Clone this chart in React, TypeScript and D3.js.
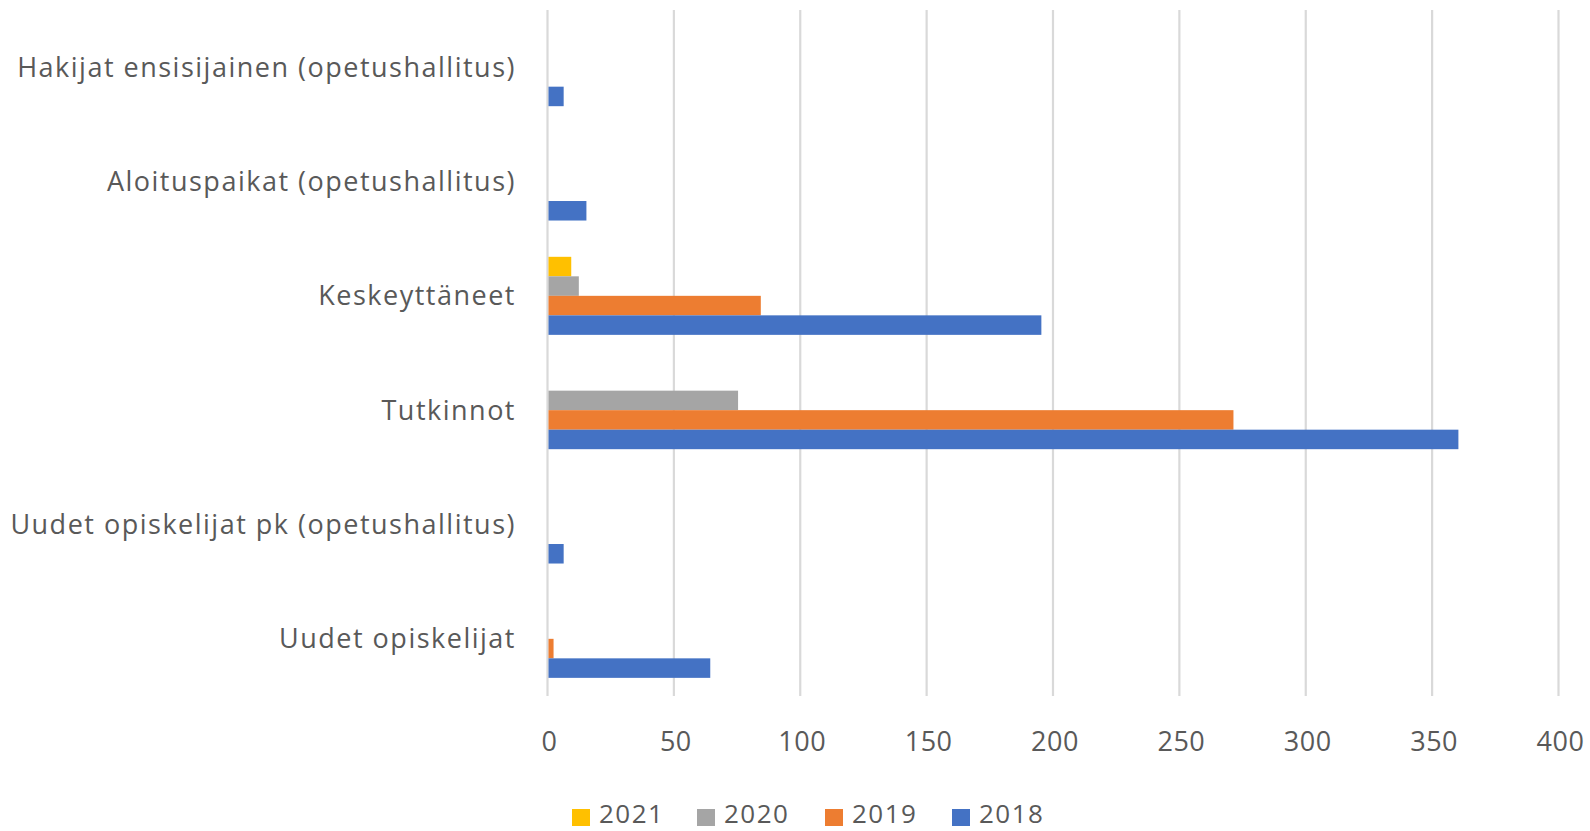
import React from "react";
import * as d3 from "d3";

const categories = [
  "Hakijat ensisijainen (opetushallitus)",
  "Aloituspaikat (opetushallitus)",
  "Keskeyttäneet",
  "Tutkinnot",
  "Uudet opiskelijat pk (opetushallitus)",
  "Uudet opiskelijat",
];
const seriesNames = ["2021", "2020", "2019", "2018"];
const values2021 = [0, 0, 9, 0, 0, 0];
const values2020 = [0, 0, 12, 75, 0, 0];
const values2019 = [0, 0, 84, 271, 0, 2];
const values2018 = [6, 15, 195, 360, 6, 64];
const xTicks = [0, 50, 100, 150, 200, 250, 300, 350, 400];
const colors = ["#FFC000", "#A5A5A5", "#ED7D31", "#4472C4"];

const seriesValues = [values2021, values2020, values2019, values2018];

const W = 1590;
const H = 831;
const FONT = "'Open Sans', sans-serif";
const TEXT = "#595959";

export default function App() {
  const x = d3.scaleLinear().domain([0, 400]).range([547.5, 1558.5]);
  const y = d3.scaleBand<string>().domain(categories).range([10, 696]).padding(0);
  const yInner = d3
    .scaleBand<string>()
    .domain(seriesNames)
    .range([0, y.bandwidth()])
    .paddingInner(0)
    .paddingOuter(0.93);

  const legendX = [572, 697, 825, 952];

  return (
    <svg
      width={W}
      height={H}
      style={{ position: "absolute", left: 0, top: 0, background: "#fff" }}
      fontFamily={FONT}
    >
      {xTicks.map((t) => (
        <line
          key={"g" + t}
          x1={x(t)}
          x2={x(t)}
          y1={10}
          y2={696}
          stroke="#D9D9D9"
          strokeWidth={2.2}
        />
      ))}
      {categories.map((c, ci) =>
        seriesNames.map((s, si) => {
          const v = seriesValues[si][ci];
          if (!v) return null;
          return (
            <rect
              key={c + s}
              x={x(0) + 1}
              y={(y(c) as number) + (yInner(s) as number)}
              width={x(v) - x(0)}
              height={yInner.bandwidth()}
              fill={colors[si]}
            />
          );
        })
      )}
      {categories.map((c) => (
        <text
          key={"l" + c}
          x={516}
          y={(y(c) as number) + y.bandwidth() / 2 - 1}
          textAnchor="end"
          dominantBaseline="central"
          fontSize={27}
          letterSpacing={1.5}
          fill={TEXT}
        >
          {c}
        </text>
      ))}
      {xTicks.map((t) => (
        <text
          key={"t" + t}
          x={x(t) + 2}
          y={740}
          textAnchor="middle"
          dominantBaseline="central"
          fontSize={27}
          letterSpacing={0.5}
          fill={TEXT}
        >
          {t}
        </text>
      ))}
      {seriesNames.map((s, i) => (
        <g key={"lg" + s}>
          <rect x={legendX[i]} y={809} width={18} height={17} fill={colors[i]} />
          <text
            x={legendX[i] + 27}
            y={813}
            dominantBaseline="central"
            fontSize={26}
            letterSpacing={1.5}
            fill={TEXT}
          >
            {s}
          </text>
        </g>
      ))}
    </svg>
  );
}
